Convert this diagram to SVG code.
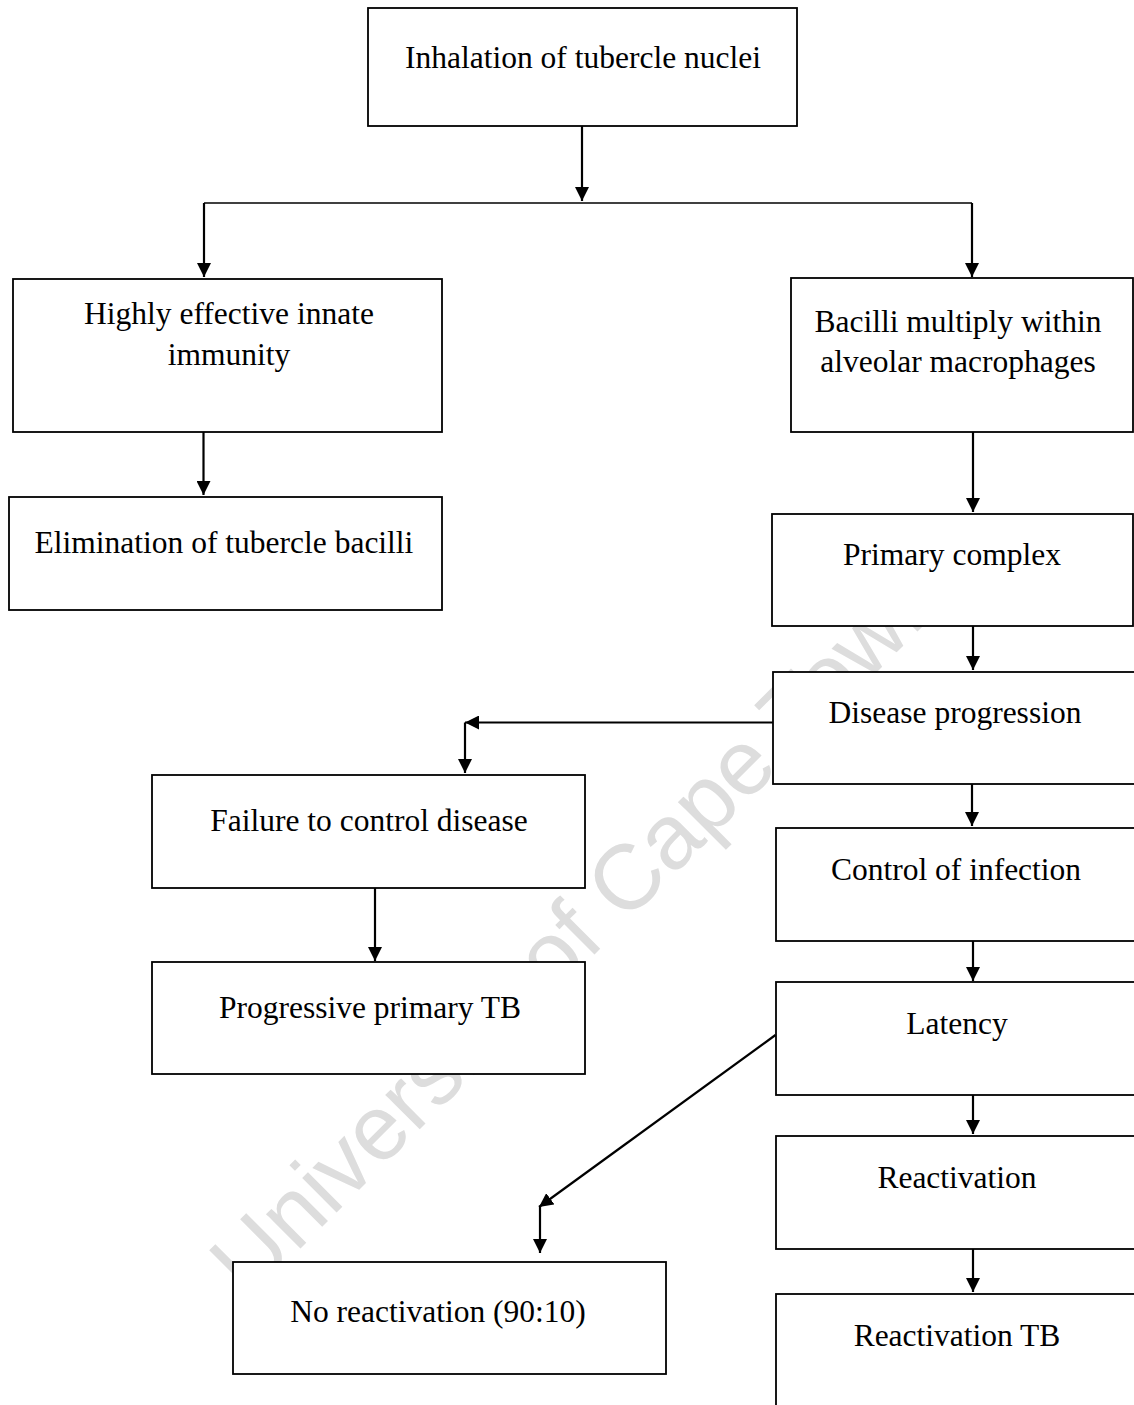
<svg xmlns="http://www.w3.org/2000/svg" width="1134" height="1405" viewBox="0 0 1134 1405">
  <style>
    .box { fill: #ffffff; stroke: #000000; stroke-width: 1.8; }
    .lbl { font-family: "Liberation Serif", "Times New Roman", serif; font-size: 31.5px; fill: #000000; text-anchor: middle; }
    .wire { fill: none; stroke: #000000; stroke-width: 2.2; }
    .arrow { marker-end: url(#head); }
    .thin { stroke-width: 1.3; }
    .mark { font-family: "Liberation Sans", Arial, sans-serif; font-size: 92px; fill: #dddddd; }
  </style>
  <defs>
    <marker id="head" markerUnits="userSpaceOnUse" markerWidth="14" markerHeight="14" refX="14" refY="7" orient="auto">
      <path d="M0,0 L14,7 L0,14 Z" fill="#000000"/>
    </marker>
  </defs>

  <rect width="1134" height="1405" fill="#ffffff"/>

  <!-- background watermark -->
  <text class="mark" x="249" y="1300" transform="rotate(-45 249 1300)">University of Cape Town</text>

  <!-- connectors -->
  <g id="connectors">
    <path class="wire arrow" d="M582,126 V201"/>
    <path class="wire thin" d="M204,203 H972"/>
    <path class="wire arrow" d="M204,203 V277"/>
    <path class="wire arrow" d="M972,203 V277"/>
    <path class="wire arrow" d="M203.5,432 V495"/>
    <path class="wire arrow" d="M973,432 V512"/>
    <path class="wire arrow" d="M973,626 V670"/>
    <path class="wire arrow" d="M773,722.5 H465"/>
    <path class="wire arrow" d="M465,722.5 V773"/>
    <path class="wire arrow" d="M972,784 V826"/>
    <path class="wire arrow" d="M375,888 V961"/>
    <path class="wire arrow" d="M973,941 V981"/>
    <path class="wire arrow" d="M775.5,1035 L539,1207"/>
    <path class="wire arrow" d="M540,1207 V1253"/>
    <path class="wire arrow" d="M973,1095 V1134"/>
    <path class="wire arrow" d="M973,1249 V1292"/>
  </g>

  <!-- nodes -->
  <g id="inhalation">
    <rect class="box" x="368" y="8" width="429" height="118"/>
    <text class="lbl" x="583" y="68">Inhalation of tubercle nuclei</text>
  </g>
  <g id="innate-immunity">
    <rect class="box" x="13" y="279" width="429" height="153"/>
    <text class="lbl" x="229" y="324">Highly effective innate</text>
    <text class="lbl" x="229" y="365">immunity</text>
  </g>
  <g id="bacilli-multiply">
    <rect class="box" x="791" y="278" width="342" height="154"/>
    <text class="lbl" x="958" y="332">Bacilli multiply within</text>
    <text class="lbl" x="958" y="372">alveolar macrophages</text>
  </g>
  <g id="elimination">
    <rect class="box" x="9" y="497" width="433" height="113"/>
    <text class="lbl" x="224" y="553">Elimination of tubercle bacilli</text>
  </g>
  <g id="primary-complex">
    <rect class="box" x="772" y="514" width="361" height="112"/>
    <text class="lbl" x="952" y="565">Primary complex</text>
  </g>
  <g id="disease-progression">
    <rect class="box" x="773" y="672" width="370" height="112"/>
    <text class="lbl" x="955" y="723">Disease progression</text>
  </g>
  <g id="failure-to-control">
    <rect class="box" x="152" y="775" width="433" height="113"/>
    <text class="lbl" x="369" y="831">Failure to control disease</text>
  </g>
  <g id="progressive-primary">
    <rect class="box" x="152" y="962" width="433" height="112"/>
    <text class="lbl" x="370" y="1018">Progressive primary TB</text>
  </g>
  <g id="control-of-infection">
    <rect class="box" x="776" y="828" width="370" height="113"/>
    <text class="lbl" x="956" y="880">Control of infection</text>
  </g>
  <g id="latency">
    <rect class="box" x="776" y="982" width="370" height="113"/>
    <text class="lbl" x="957" y="1034">Latency</text>
  </g>
  <g id="reactivation">
    <rect class="box" x="776" y="1136" width="370" height="113"/>
    <text class="lbl" x="957" y="1188">Reactivation</text>
  </g>
  <g id="no-reactivation">
    <rect class="box" x="233" y="1262" width="433" height="112"/>
    <text class="lbl" x="438" y="1322">No reactivation (90:10)</text>
  </g>
  <g id="reactivation-tb">
    <rect class="box" x="776" y="1294" width="370" height="130"/>
    <text class="lbl" x="957" y="1346">Reactivation TB</text>
  </g>
</svg>
